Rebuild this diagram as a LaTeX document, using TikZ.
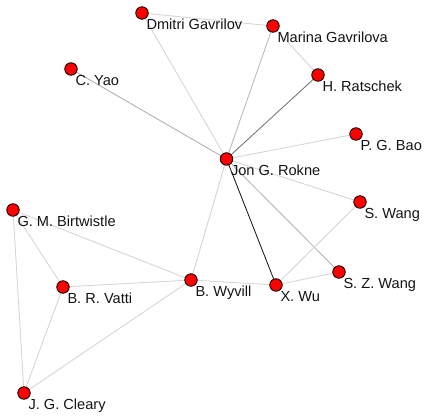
\documentclass[tikz,border=0pt]{standalone}
\usepackage{fontspec}
\setmainfont{Liberation Sans}
\begin{document}
\begin{tikzpicture}[x=1pt,y=-1pt,
  author/.style={circle,draw=black,fill=red,line width=0.8pt,minimum size=12.5pt,inner sep=0pt},
  lbl/.style={anchor=base west,inner sep=0pt,text=black!92,font=\fontsize{14.6}{17}\selectfont},
  tie/.style={line width=0.85pt,draw=#1},
  tie/.default={black!17}]
\useasboundingbox (0,0) rectangle (426,419);

% author positions
\coordinate (pGav) at (142,13);
\coordinate (pYao) at (71,69);
\coordinate (pMar) at (273,26);
\coordinate (pRat) at (318,75);
\coordinate (pBao) at (356,134);
\coordinate (pRok) at (226.5,159);
\coordinate (pSW)  at (360,202);
\coordinate (pSZW) at (339,272);
\coordinate (pWu)  at (276,285);
\coordinate (pBir) at (13,210);
\coordinate (pVat) at (63,287);
\coordinate (pWyv) at (191,280);
\coordinate (pCle) at (24,393);

% collaboration edges
\draw[tie] (pGav) -- (pMar);
\draw[tie] (pGav) -- (pRok);
\draw[tie=black!28] (pMar) -- (pRok);
\draw[tie] (pMar) -- (pRat);
\draw[tie=black!55] (pRat) -- (pRok);
\draw[tie=black!32] (pYao) -- (pRok);
\draw[tie] (pBao) -- (pRok);
\draw[tie] (pRok) -- (pSW);
\draw[tie=black!30] (pRok) -- (pSZW);
\draw[tie=black!90] (pRok) -- (pWu);
\draw[tie] (pRok) -- (pWyv);
\draw[tie] (pSW) -- (pWu);
\draw[tie] (pWu) -- (pSZW);
\draw[tie] (pWyv) -- (pWu);
\draw[tie] (pBir) -- (pWyv);
\draw[tie] (pBir) -- (pVat);
\draw[tie] (pBir) -- (pCle);
\draw[tie] (pVat) -- (pWyv);
\draw[tie] (pVat) -- (pCle);
\draw[tie] (pCle) -- (pWyv);

% authors
\foreach \p/\t in {Gav/Dmitri Gavrilov, Yao/C. Yao, Mar/Marina Gavrilova,
  Rat/H. Ratschek, Bao/P. G. Bao, Rok/Jon G. Rokne, SW/S. Wang,
  SZW/S. Z. Wang, Wu/X. Wu, Bir/G. M. Birtwistle, Vat/B. R. Vatti,
  Wyv/B. Wyvill, Cle/J. G. Cleary}{
  \node[author] (n\p) at (p\p) {};
  \node[lbl] (t\p) at ([xshift=4.3pt,yshift=-17pt]p\p) {\t};
}
\end{tikzpicture}
\end{document}
